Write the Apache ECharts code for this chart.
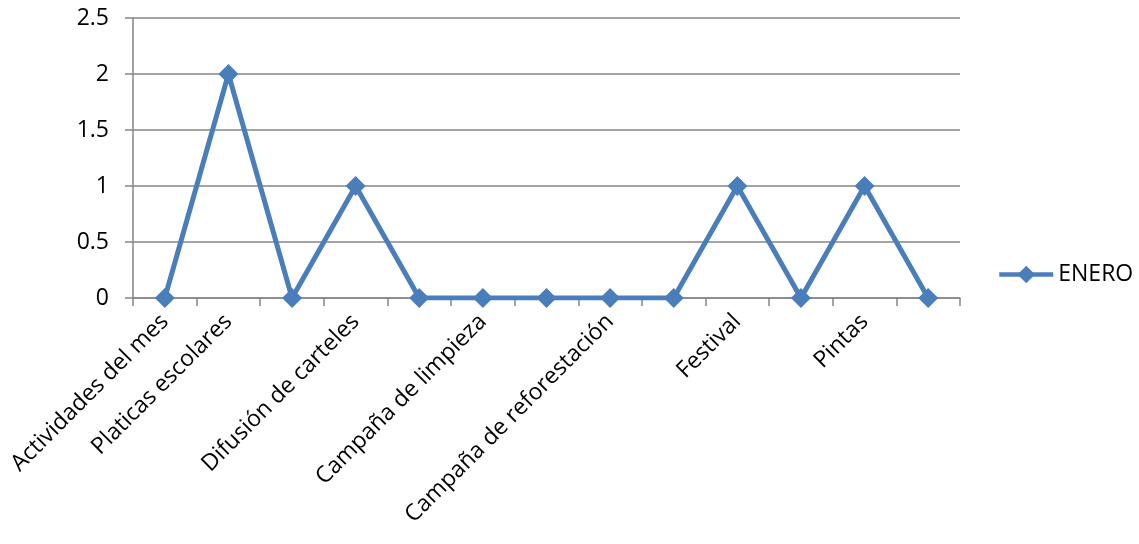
<!DOCTYPE html>
<html>
<head>
<meta charset="utf-8">
<script src="https://cdn.jsdelivr.net/npm/echarts@6/dist/echarts.min.js"></script>
<style>html,body{margin:0;padding:0;background:#fff;}#c{width:1139px;height:544px;}</style>
</head>
<body>
<div id="c"></div>
<script>
const categories = ["Actividades del mes", "Platicas escolares", "", "Difusión de carteles", "", "Campaña de limpieza", "", "Campaña de reforestación", "", "Festival", "", "Pintas", ""];
const seriesName = "ENERO";
const values = [0, 2, 0, 1, 0, 0, 0, 0, 0, 1, 0, 1, 0];
const yTicks = { min: 0, max: 2.5, interval: 0.5 };

const font = "'Open Sans', sans-serif";
const chart = echarts.init(document.getElementById('c'));
chart.setOption({
  animation: false,
  grid: { left: 133, right: 179, top: 18, bottom: 246, containLabel: false },
  legend: {
    orient: 'vertical', left: 992, top: 258,
    itemWidth: 54, itemHeight: 22, itemGap: 5,
    lineStyle: { width: 4.5, color: '#4A7EBB' },
    itemStyle: { color: '#4A7EBB' },
    textStyle: { fontFamily: font, fontSize: 23, color: '#000' },
    data: [seriesName]
  },
  xAxis: {
    type: 'category', data: categories, boundaryGap: true,
    axisLine: { lineStyle: { color: '#868686', width: 1.5 } },
    axisTick: { show: true, length: 8, interval: 0, lineStyle: { color: '#868686', width: 1.5 } },
    axisLabel: { interval: 0, rotate: 45, margin: 20, fontFamily: font, fontSize: 23, color: '#000' },
    splitLine: { show: false }
  },
  yAxis: {
    type: 'value', min: yTicks.min, max: yTicks.max, interval: yTicks.interval,
    axisLine: { show: true, lineStyle: { color: '#868686', width: 1.5 } },
    axisTick: { show: true, length: 8, lineStyle: { color: '#868686', width: 1.5 } },
    axisLabel: { margin: 24, fontFamily: font, fontSize: 23, color: '#000' },
    splitLine: { show: true, lineStyle: { color: '#868686', width: 1.5 } }
  },
  series: [{
    name: seriesName, type: 'line', data: values,
    symbol: 'diamond', symbolSize: 20,
    lineStyle: { color: '#4A7EBB', width: 5 },
    itemStyle: { color: '#4A7EBB' }
  }]
});
</script>
</body>
</html>
